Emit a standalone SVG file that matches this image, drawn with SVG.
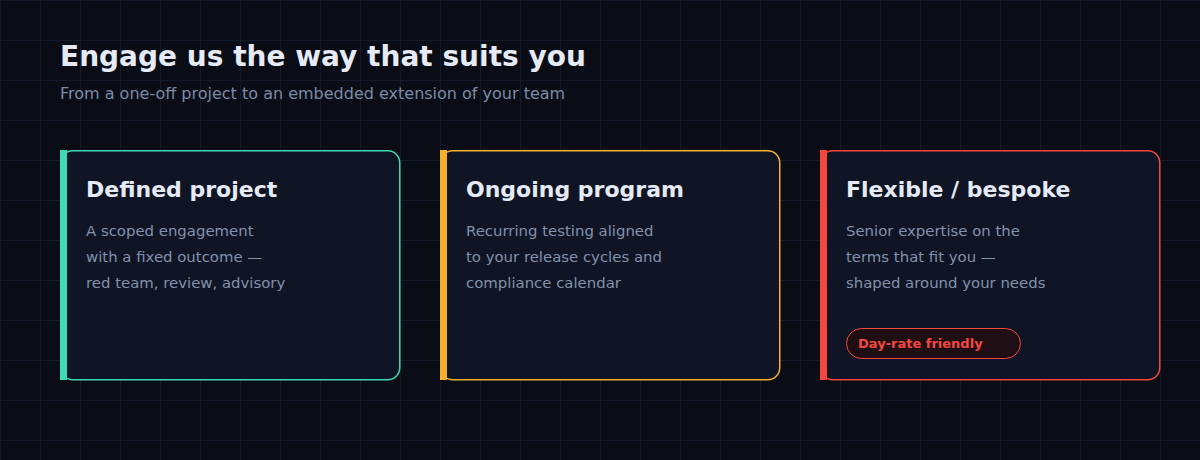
<svg xmlns="http://www.w3.org/2000/svg" width="1200" height="460" viewBox="0 0 1200 460">
<defs>
<pattern id="grid" width="40" height="40" patternUnits="userSpaceOnUse"><path d="M40 0H0V40" fill="none" stroke="#161f31" stroke-width="1.5"/></pattern>
<style>
text{font-family:"DejaVu Sans",sans-serif}
.card{fill:#0f1524;stroke-width:1.5}
.h{font-size:22px;font-weight:bold;fill:#e6eaf5}
.b{font-size:14.9px;fill:#8391ab}
</style>
</defs>
<rect width="1200" height="460" fill="#0a0d16"/>
<rect width="1200" height="460" fill="url(#grid)"/>
<text x="60" y="66" font-size="28" font-weight="bold" fill="#e6eaf5">Engage us the way that suits you</text>
<text x="60" y="99" font-size="16" fill="#7d8aa5">From a one-off project to an embedded extension of your team</text>
<g id="card1">
<rect class="card" x="60.75" y="150.75" width="339" height="229" rx="12" stroke="#3ddbb4"/>
<rect x="60" y="150" width="7" height="230" fill="#3ddbb4"/>
<text class="h" x="86" y="197">Defined project</text>
<text class="b" x="86" y="236">A scoped engagement</text>
<text class="b" x="86" y="262">with a fixed outcome —</text>
<text class="b" x="86" y="288">red team, review, advisory</text>
</g>
<g id="card2">
<rect class="card" x="440.75" y="150.75" width="339" height="229" rx="12" stroke="#f5b02e"/>
<rect x="440" y="150" width="7" height="230" fill="#f5b02e"/>
<text class="h" x="466" y="197">Ongoing program</text>
<text class="b" x="466" y="236">Recurring testing aligned</text>
<text class="b" x="466" y="262">to your release cycles and</text>
<text class="b" x="466" y="288">compliance calendar</text>
</g>
<g id="card3">
<rect class="card" x="820.75" y="150.75" width="339" height="229" rx="12" stroke="#f5473f"/>
<rect x="820" y="150" width="7" height="230" fill="#f5473f"/>
<text class="h" x="846" y="197">Flexible / bespoke</text>
<text class="b" x="846" y="236">Senior expertise on the</text>
<text class="b" x="846" y="262">terms that fit you —</text>
<text class="b" x="846" y="288">shaped around your needs</text>
<rect x="846.5" y="328.5" width="174" height="30" rx="15" fill="#1f0f15" stroke="#f5473f" stroke-width="1"/>
<text x="858" y="348" font-size="13" font-weight="bold" fill="#f5473f">Day-rate friendly</text>
</g>
<g id="connectors"/>
</svg>
